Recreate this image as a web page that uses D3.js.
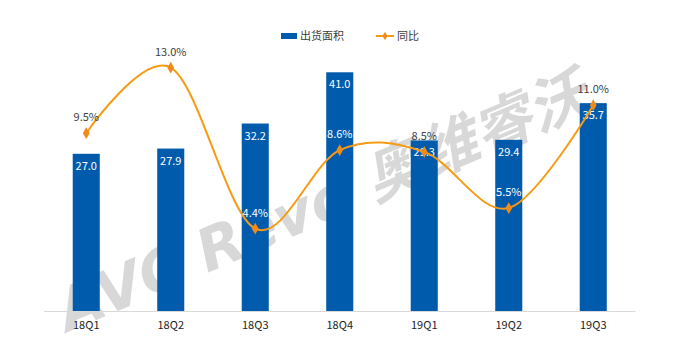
<!DOCTYPE html>
<html><head><meta charset="utf-8">
<script src="https://cdn.jsdelivr.net/npm/d3@7"></script>
<style>body{margin:0;background:#fff}svg{display:block}</style>
</head><body>
<svg id="c" width="689" height="355"></svg>
<script>
const categories = ["18Q1","18Q2","18Q3","18Q4","19Q1","19Q2","19Q3"];
const area = [27.0, 27.9, 32.2, 41.0, 29.3, 29.4, 35.7];
const yoy = [9.5, 13.0, 4.4, 8.6, 8.5, 5.5, 11.0];
const seriesNames = ["出货面积", "同比"];

const svg = d3.select("#c");
const font = "'Noto Sans CJK SC','Noto Sans',sans-serif";
const barColor = "#005BAC", lineColor = "#F59B14", markColor = "#F08A1A";
const plotTop = 49, base = 311;

const x = d3.scaleBand().domain(categories).range([44, 635.5]).paddingInner(0.68).paddingOuter(0.34);
const y = d3.scaleLinear().domain([0, 45]).range([base, plotTop]);
const y2 = d3.scaleLinear().domain([0, 14]).range([base, plotTop]);

// watermark
svg.append("text").attr("transform", "translate(322,202) rotate(-23)")
  .attr("text-anchor", "middle").attr("dominant-baseline", "central")
  .attr("font-family", "'DejaVu Sans','Noto Sans CJK SC',sans-serif").attr("font-weight", "bold")
  .attr("font-style", "italic")
  .attr("font-size", 59).attr("fill", "#d8d8d8").text("AVC Revo 奥维睿沃");

// bars
svg.append("g").selectAll("rect").data(area).join("rect")
  .attr("x", (d, i) => x(categories[i])).attr("width", x.bandwidth())
  .attr("y", d => y(d)).attr("height", d => base - y(d)).attr("fill", barColor);

// axis
const ax = svg.append("g").attr("transform", `translate(0,${base})`).call(d3.axisBottom(x).tickSize(0).tickPadding(10));
ax.select(".domain").attr("stroke", "#d9d9d9").attr("d", "M44,0.5H635.5");
ax.selectAll("text").attr("font-family", font).attr("font-size", 11).attr("fill", "#222");

// bar labels
svg.append("g").selectAll("text").data(area).join("text")
  .attr("x", (d, i) => x(categories[i]) + x.bandwidth() / 2).attr("y", d => y(d) + 16)
  .attr("text-anchor", "middle").attr("font-family", font).attr("font-size", 11)
  .attr("fill", "#fff").text(d => d.toFixed(1));

// line
const cx = i => x(categories[i]) + x.bandwidth() / 2;
const line = d3.line().x((d, i) => cx(i)).y(d => y2(d)).curve(d3.curveCardinal.tension(0));
svg.append("path").datum(yoy).attr("d", line).attr("fill", "none")
  .attr("stroke", lineColor).attr("stroke-width", 2);
const diamond = d3.symbol().type(d3.symbolDiamond).size(40);
svg.append("g").selectAll("path").data(yoy).join("path")
  .attr("transform", (d, i) => `translate(${cx(i)},${y2(d)})`).attr("d", diamond).attr("fill", markColor);

// line labels
svg.append("g").selectAll("text").data(yoy).join("text")
  .attr("x", (d, i) => cx(i)).attr("y", d => y2(d) - 12)
  .attr("text-anchor", "middle").attr("font-family", font).attr("font-size", 11)
  .attr("fill", (d, i) => (y2(d) - 20 > y(area[i])) ? "#fff" : "#404040")
  .text(d => d.toFixed(1) + "%");

// legend
const lg = svg.append("g").attr("font-family", font).attr("font-size", 11).attr("fill", "#404040");
lg.append("rect").attr("x", 281).attr("y", 33).attr("width", 16).attr("height", 6).attr("fill", barColor);
lg.append("text").attr("x", 300).attr("y", 40).text(seriesNames[0]);
lg.append("line").attr("x1", 376).attr("x2", 394).attr("y1", 36).attr("y2", 36).attr("stroke", lineColor).attr("stroke-width", 2);
lg.append("path").attr("transform", "translate(385,36)").attr("d", d3.symbol().type(d3.symbolDiamond).size(20)).attr("fill", markColor);
lg.append("text").attr("x", 397).attr("y", 40).text(seriesNames[1]);
</script>
</body></html>
